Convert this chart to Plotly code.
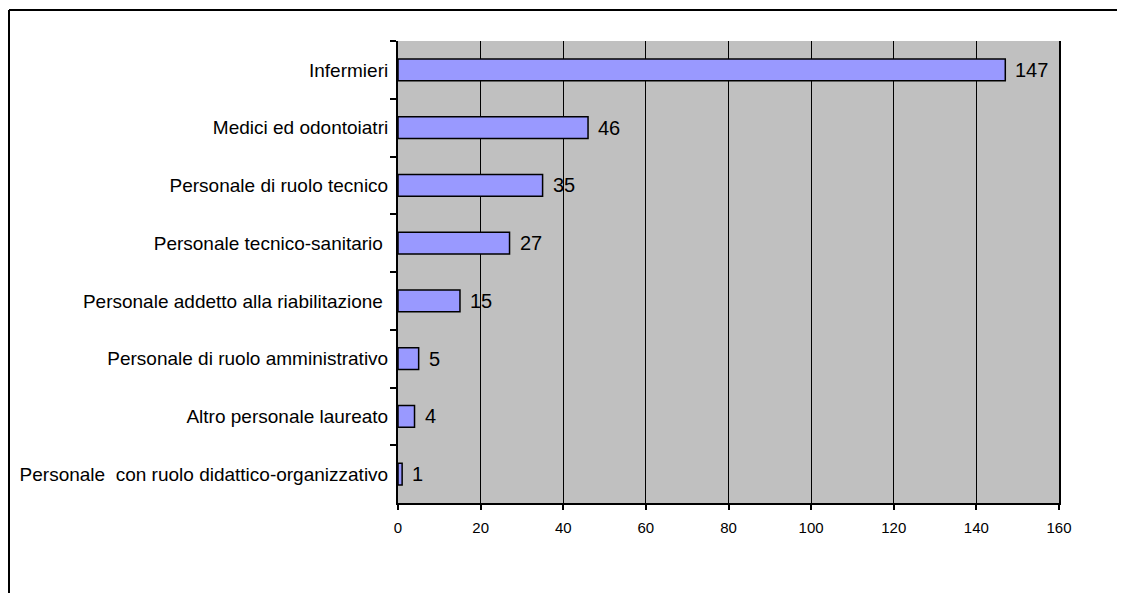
import plotly.graph_objects as go

categories = [
    "Infermieri",
    "Medici ed odontoiatri",
    "Personale di ruolo tecnico",
    "Personale tecnico-sanitario\u00a0",
    "Personale addetto alla riabilitazione\u00a0",
    "Personale di ruolo amministrativo",
    "Altro personale laureato",
    "Personale\u00a0 con ruolo didattico-organizzativo",
]
values = [147, 46, 35, 27, 15, 5, 4, 1]
x_ticks = [0, 20, 40, 60, 80, 100, 120, 140, 160]

W, H = 1117, 585
L, R, T, B = 390, 66, 33, 90
pw, ph = W - L - R, H - T - B

fig = go.Figure()
fig.add_trace(go.Bar(
    x=values, y=categories, orientation="h",
    width=0.38,
    marker=dict(color="#9999FF", line=dict(color="black", width=1.5)),
    hoverinfo="skip",
))

for v, c in zip(values, categories):
    fig.add_annotation(x=v, y=c, text=str(v), showarrow=False,
                       xanchor="left", yanchor="middle", xshift=8,
                       font=dict(family="Liberation Sans, Arial", size=20, color="black"))

# outer frame (left and top borders)
fx = (1 - L) / pw
fy = 1 + (T - 2) / ph
fig.add_shape(type="line", xref="paper", yref="paper", x0=fx, x1=fx, y0=fy, y1=-2,
              line=dict(color="black", width=2))
fig.add_shape(type="line", xref="paper", yref="paper", x0=fx, x1=2, y0=fy, y1=fy,
              line=dict(color="black", width=2))

fig.update_layout(
    width=W, height=H,
    margin=dict(l=L, r=R, t=T, b=B, pad=0),
    paper_bgcolor="white", plot_bgcolor="#C0C0C0",
    showlegend=False,
    font=dict(family="Liberation Sans, Arial", color="black"),
    xaxis=dict(
        range=[0, 160], tickvals=x_ticks, ticktext=[str(t) for t in x_ticks],
        showgrid=True, gridcolor="black", gridwidth=1,
        showline=True, linecolor="black", linewidth=2,
        ticks="outside", ticklen=5, tickwidth=2, tickcolor="black",
        ticklabelstandoff=5,
        tickfont=dict(family="Liberation Sans, Arial", size=15, color="black"),
        zeroline=False, fixedrange=True,
    ),
    yaxis=dict(
        type="category", categoryorder="array", categoryarray=categories,
        autorange="reversed", tickson="boundaries",
        showgrid=False, showline=True, linecolor="black", linewidth=2, mirror=True,
        ticks="outside", ticklen=6, tickwidth=2, tickcolor="black",
        ticklabelstandoff=4,
        tickfont=dict(family="Liberation Sans, Arial", size=19, color="black"),
        zeroline=False, fixedrange=True,
    ),
)

fig.write_html("out.html")
